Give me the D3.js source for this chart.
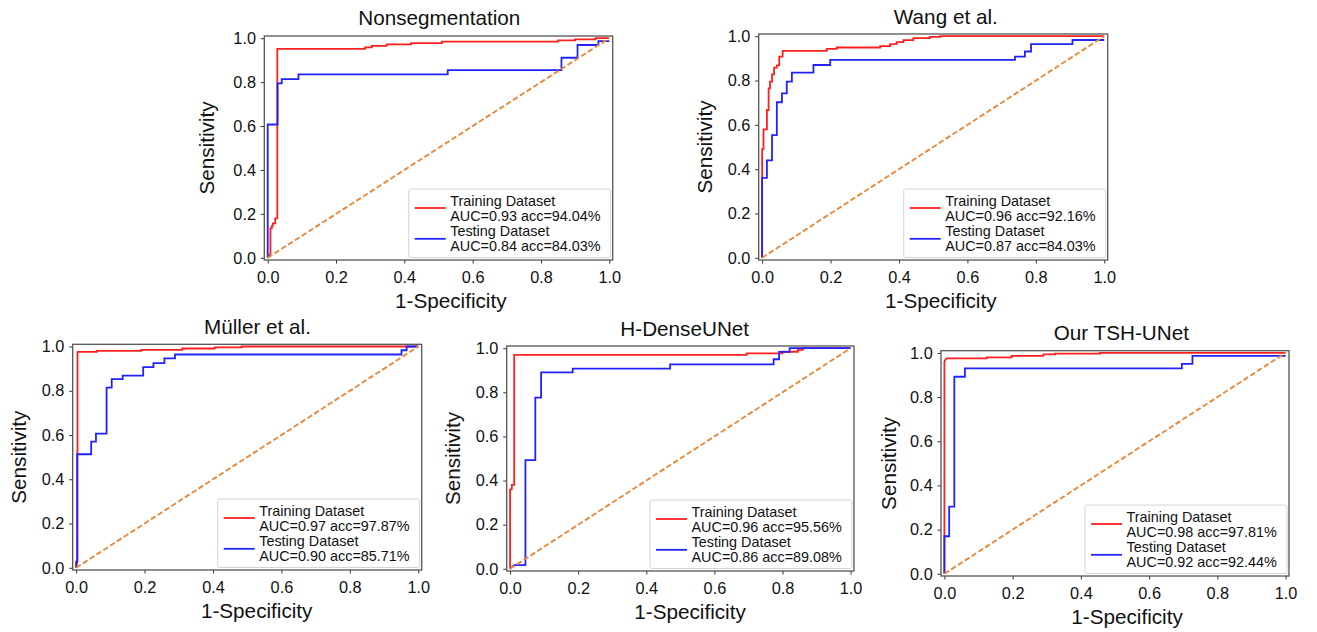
<!DOCTYPE html>
<html><head><meta charset="utf-8">
<script src="https://cdn.jsdelivr.net/npm/d3@7"></script>
<style>
body{margin:0;background:#fff}
svg{display:block}
text{font-family:"Liberation Sans",Arial,Helvetica,sans-serif}
</style>
</head><body>
<svg id="chart" width="1317" height="632"></svg>
<script>
// ---------------- data ----------------
const panelTitles = ["Nonsegmentation", "Wang et al.", "Müller et al.", "H-DenseUNet", "Our TSH-UNet"];
const xTickValues = [0, 0.2, 0.4, 0.6, 0.8, 1.0];
const yTickValues = [0, 0.2, 0.4, 0.6, 0.8, 1.0];
const seriesNames = ["Training Dataset", "Testing Dataset"];
const trainStats = ["AUC=0.93 acc=94.04%", "AUC=0.96 acc=92.16%", "AUC=0.97 acc=97.87%", "AUC=0.96 acc=95.56%", "AUC=0.98 acc=97.81%"];
const testStats  = ["AUC=0.84 acc=84.03%", "AUC=0.87 acc=84.03%", "AUC=0.90 acc=85.71%", "AUC=0.86 acc=89.08%", "AUC=0.92 acc=92.44%"];
const xLabel = "1-Specificity";
const yLabel = "Sensitivity";

// Nonsegmentation
const nonsegTrainFpr = [0,0.008,0.008,0.012,0.012,0.015,0.015,0.022,0.022,0.028,0.028,0.285,0.285,0.305,0.305,0.348,0.348,0.42,0.42,0.51,0.51,0.85,0.85,0.90,0.90,0.96,0.96,1.0];
const nonsegTrainTpr = [0,0.02,0.134,0.134,0.145,0.145,0.157,0.157,0.18,0.18,0.951,0.951,0.958,0.958,0.965,0.965,0.972,0.972,0.978,0.978,0.984,0.984,0.99,0.99,0.995,0.995,1.0,1.0];
const nonsegTestFpr  = [0,0,0.029,0.029,0.041,0.041,0.09,0.09,0.527,0.527,0.86,0.86,0.907,0.907,0.968,0.968,1.0];
const nonsegTestTpr  = [0,0.607,0.607,0.794,0.794,0.814,0.814,0.835,0.835,0.855,0.855,0.911,0.911,0.969,0.969,0.987,0.987];

// Wang et al.
const wangTrainFpr = [0,0,0.004,0.004,0.014,0.014,0.019,0.019,0.023,0.023,0.029,0.029,0.035,0.035,0.043,0.043,0.05,0.05,0.06,0.06,0.189,0.189,0.218,0.218,0.345,0.345,0.374,0.374,0.393,0.393,0.413,0.413,0.442,0.442,0.49,0.49,0.52,0.52,1.0];
const wangTrainTpr = [0,0.49,0.49,0.58,0.58,0.667,0.667,0.765,0.765,0.795,0.795,0.828,0.828,0.858,0.858,0.868,0.868,0.908,0.908,0.934,0.934,0.943,0.943,0.949,0.949,0.955,0.955,0.964,0.964,0.973,0.973,0.982,0.982,0.991,0.991,0.997,0.997,1.0,1.0];
const wangTestFpr  = [0,0,0.014,0.014,0.029,0.029,0.043,0.043,0.058,0.058,0.072,0.072,0.087,0.087,0.15,0.15,0.199,0.199,0.739,0.739,0.768,0.768,0.786,0.786,0.907,0.907,1.0];
const wangTestTpr  = [0,0.361,0.361,0.44,0.44,0.554,0.554,0.702,0.702,0.742,0.742,0.795,0.795,0.836,0.836,0.87,0.87,0.893,0.893,0.908,0.908,0.931,0.931,0.964,0.964,0.983,0.983];

// Müller et al.
const mullerTrainFpr = [0,0.004,0.004,0.06,0.06,0.19,0.19,0.31,0.31,0.405,0.405,0.484,0.484,1.0];
const mullerTrainTpr = [0,0.03,0.976,0.976,0.98,0.98,0.985,0.985,0.991,0.991,0.996,0.996,1.0,1.0];
const mullerTestFpr  = [0,0,0.003,0.003,0.044,0.044,0.058,0.058,0.089,0.089,0.104,0.104,0.136,0.136,0.196,0.196,0.226,0.226,0.258,0.258,0.289,0.289,0.951,0.951,0.966,0.966,1.0];
const mullerTestTpr  = [0,0.028,0.028,0.513,0.513,0.57,0.57,0.606,0.606,0.814,0.814,0.853,0.853,0.868,0.868,0.907,0.907,0.925,0.925,0.946,0.946,0.964,0.964,0.983,0.983,1.0,1.0];

// H-DenseUNet
const hdenseTrainFpr = [0,0,0.005,0.005,0.012,0.012,0.695,0.695,0.80,0.80,0.845,0.845,0.86,0.86,1.0];
const hdenseTrainTpr = [0,0.36,0.36,0.38,0.38,0.97,0.97,0.977,0.977,0.984,0.984,0.993,0.993,1.0,1.0];
const hdenseTestFpr  = [0,0.012,0.045,0.045,0.074,0.074,0.091,0.091,0.184,0.184,0.47,0.47,0.774,0.774,0.79,0.79,0.821,0.821,1.0];
const hdenseTestTpr  = [0,0.017,0.017,0.493,0.493,0.776,0.776,0.89,0.89,0.907,0.907,0.927,0.927,0.95,0.95,0.983,0.983,1.0,1.0];

// Our TSH-UNet
const tshTrainFpr = [0,0,0.003,0.007,0.124,0.124,0.197,0.197,0.29,0.29,0.324,0.324,0.456,0.456,1.0];
const tshTrainTpr = [0,0.96,0.97,0.975,0.975,0.98,0.98,0.987,0.987,0.993,0.993,0.997,0.997,1.0,1.0];
const tshTestFpr  = [0,0,0.014,0.014,0.029,0.029,0.06,0.06,0.696,0.696,0.727,0.727,1.0];
const tshTestTpr  = [0,0.17,0.17,0.304,0.304,0.892,0.892,0.93,0.93,0.95,0.95,0.987,0.987];

const chanceFpr = [0, 1];
const chanceTpr = [0, 1];

// ---------------- layout (positions/styles) ----------------
const layout = [
  {l:264.3, t:36,    r:612.7, b:260, titleX:439.3,  titleY:25,    xlabX:450.8,  ylabX:213.5},
  {l:758.7, t:34,    r:1107.7,b:260, titleX:945.8,  titleY:24,    xlabX:940.8,  ylabX:711.5},
  {l:72.7,  t:344.3, r:421.7, b:570, titleX:257.5,  titleY:334.3, xlabX:256.7,  ylabX:25.5},
  {l:506.7, t:346,   r:854,   b:571, titleX:684.7,  titleY:336,   xlabX:690,    ylabX:459.5},
  {l:941,   t:350.7, r:1289,  b:576, titleX:1121.3, titleY:339.5, xlabX:1127,   ylabX:895.5}
];
const trainSeries = [[nonsegTrainFpr,nonsegTrainTpr],[wangTrainFpr,wangTrainTpr],[mullerTrainFpr,mullerTrainTpr],[hdenseTrainFpr,hdenseTrainTpr],[tshTrainFpr,tshTrainTpr]];
const testSeries  = [[nonsegTestFpr,nonsegTestTpr],[wangTestFpr,wangTestTpr],[mullerTestFpr,mullerTestTpr],[hdenseTestFpr,hdenseTestTpr],[tshTestFpr,tshTestTpr]];

const RED = "#ff1f1f", BLUE = "#2222ff", ORANGE = "#e8893a";
const FONT_BIG = 20.7, FONT_TICK = 16.3, FONT_LEG = 14.4;
const fmt = d3.format(".1f");

const svg = d3.select("#chart");

layout.forEach((p, i) => {
  const x = d3.scaleLinear().domain([-0.01, 1.01]).range([p.l, p.r]);
  const y = d3.scaleLinear().domain([-0.01, 1.01]).range([p.b, p.t]);
  const g = svg.append("g");

  // axes
  const ax = g.append("g").attr("transform", `translate(0,${p.b})`)
    .call(d3.axisBottom(x).tickValues(xTickValues).tickFormat(fmt).tickSize(3.5).tickPadding(8.3));
  const ay = g.append("g").attr("transform", `translate(${p.l},0)`)
    .call(d3.axisLeft(y).tickValues(yTickValues).tickFormat(fmt).tickSize(3.5).tickPadding(4.8));
  [ax, ay].forEach(a => {
    a.select(".domain").remove();
    a.attr("font-size", FONT_TICK).attr("font-family", '"Liberation Sans", Arial, sans-serif');
    a.selectAll("line").attr("stroke", "#333").attr("stroke-width", 1);
    a.selectAll("text").attr("fill", "#111");
  });

  const line = d3.line().x(d => x(d[0])).y(d => y(d[1]));
  const pts = (fx, ty) => fx.map((v, k) => [v, ty[k]]);

  g.append("path").attr("d", line(pts(trainSeries[i][0], trainSeries[i][1])))
    .attr("fill", "none").attr("stroke", RED).attr("stroke-width", 1.8).attr("stroke-linejoin", "miter");
  g.append("path").attr("d", line(pts(testSeries[i][0], testSeries[i][1])))
    .attr("fill", "none").attr("stroke", BLUE).attr("stroke-width", 1.8).attr("stroke-linejoin", "miter");
  g.append("path").attr("d", line(pts(chanceFpr, chanceTpr)))
    .attr("fill", "none").attr("stroke", ORANGE).attr("stroke-width", 1.9).attr("stroke-dasharray", "5.5,2.6");

  // frame
  g.append("rect").attr("x", p.l).attr("y", p.t).attr("width", p.r - p.l).attr("height", p.b - p.t)
    .attr("fill", "none").attr("stroke", "#555").attr("stroke-width", 1.3);

  // title & labels
  g.append("text").attr("x", p.titleX).attr("y", p.titleY).attr("text-anchor", "middle")
    .attr("font-size", FONT_BIG).attr("fill", "#111").text(panelTitles[i]);
  g.append("text").attr("x", p.xlabX).attr("y", p.b + 47.5).attr("text-anchor", "middle")
    .attr("font-size", FONT_BIG).attr("fill", "#111").text(xLabel);
  g.append("text").attr("transform", `translate(${p.ylabX},${(p.t + p.b) / 2}) rotate(-90)`)
    .attr("text-anchor", "middle").attr("font-size", FONT_BIG).attr("fill", "#111").text(yLabel);

  // legend
  const lw = 202, lh = 68.5;
  const lx = p.r - 2 - lw, ly = p.b - 2.5 - lh;
  const lg = g.append("g").attr("transform", `translate(${lx},${ly})`);
  lg.append("rect").attr("width", lw).attr("height", lh).attr("rx", 2)
    .attr("fill", "#fff").attr("fill-opacity", 0.85).attr("stroke", "#d4d4d4").attr("stroke-width", 1);
  const entries = [
    {color: RED,  lines: [seriesNames[0], trainStats[i]], ly: 19},
    {color: BLUE, lines: [seriesNames[1], testStats[i]],  ly: 49.8}
  ];
  entries.forEach((e, k) => {
    lg.append("line").attr("x1", 6).attr("x2", 37).attr("y1", e.ly).attr("y2", e.ly)
      .attr("stroke", e.color).attr("stroke-width", 1.8);
    e.lines.forEach((s, j) => {
      lg.append("text").attr("x", 41.5).attr("y", (k === 0 ? 16.5 : 46.9) + j * 15.1)
        .attr("font-size", FONT_LEG).attr("fill", "#111").text(s);
    });
  });
});
</script>
</body></html>
